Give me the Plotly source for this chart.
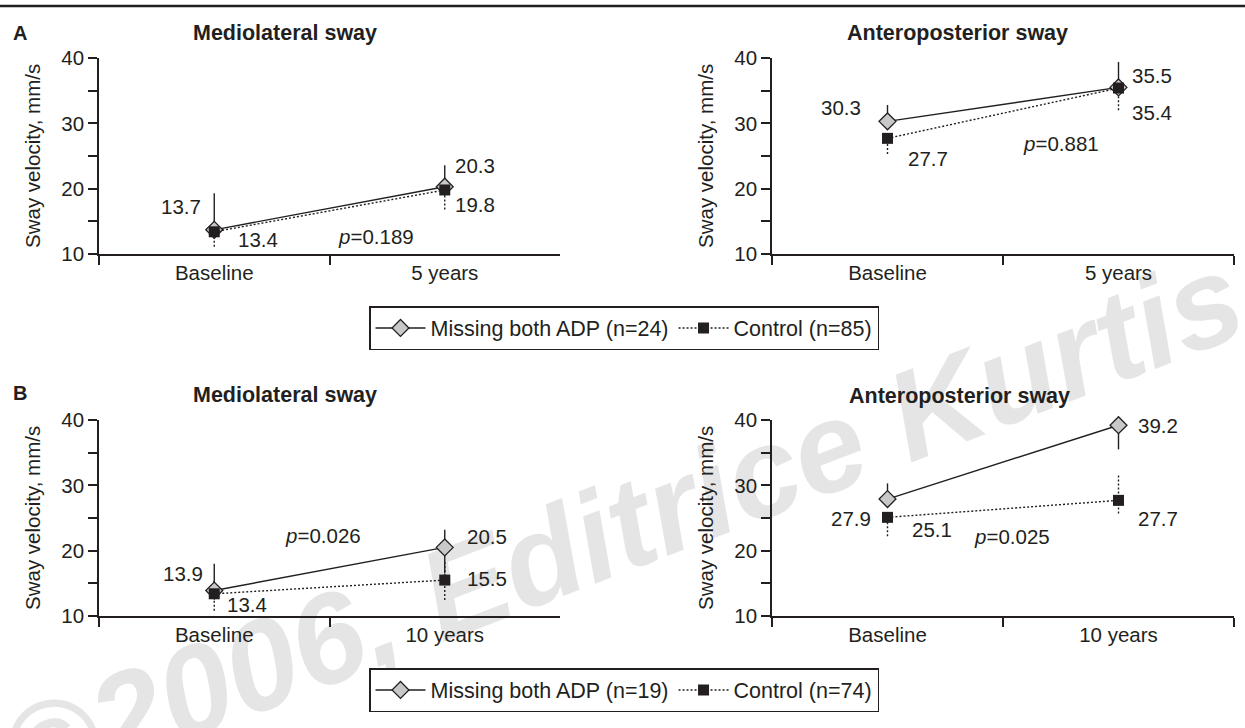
import plotly.graph_objects as go

# ---- data -------------------------------------------------------------
categories_a = ["Baseline", "5 years"]
categories_b = ["Baseline", "10 years"]

# Panel A: 5-year follow-up
a_ml_missing = [13.7, 20.3]
a_ml_control = [13.4, 19.8]
a_ap_missing = [30.3, 35.5]
a_ap_control = [27.7, 35.4]

# Panel B: 10-year follow-up
b_ml_missing = [13.9, 20.5]
b_ml_control = [13.4, 15.5]
b_ap_missing = [27.9, 39.2]
b_ap_control = [25.1, 27.7]

# error bar extents (upper, lower)
a_ml_missing_up, a_ml_missing_dn = [5.6, 3.3], [1.0, 1.0]
a_ml_control_up, a_ml_control_dn = [2.0, 2.0], [2.3, 3.0]
a_ap_missing_up, a_ap_missing_dn = [2.5, 3.9], [0.5, 0.8]
a_ap_control_up, a_ap_control_dn = [0.5, 1.0], [2.4, 3.4]
b_ml_missing_up, b_ml_missing_dn = [4.1, 2.7], [0.8, 4.0]
b_ml_control_up, b_ml_control_dn = [2.0, 3.0], [2.6, 3.05]
b_ap_missing_up, b_ap_missing_dn = [2.4, 4.0], [0.6, 3.7]
b_ap_control_up, b_ap_control_dn = [0.6, 4.1], [2.9, 2.0]

p_values = ["0.189", "0.881", "0.026", "0.025"]
n_missing = [24, 19]
n_control = [85, 74]

y_ticks = [10, 15, 20, 25, 30, 35, 40]
y_tick_text = ["10", "", "20", "", "30", "", "40"]

# ---- style ------------------------------------------------------------
INK = "#231f20"
DIAMOND_FILL = "#c8c8c8"
FONT = "Liberation Sans, Arial, Helvetica, sans-serif"
FS = 20.5
W, H = 1245, 728

def px_x(p):
    return p / W

def px_y(p):
    return 1 - p / H

# axis domains (pixels)
X_LEFT = (99, 560)
X_RIGHT = (772, 1234)
Y_TOP = (58, 254)
Y_BOT = (420, 616)

fig = go.Figure()

panels = [
    dict(ax="", cats=categories_a, m=a_ml_missing, c=a_ml_control,
         mu=a_ml_missing_up, md=a_ml_missing_dn, cu=a_ml_control_up, cd=a_ml_control_dn,
         xd=X_LEFT, yd=Y_TOP, legend="legend", n=0, p=p_values[0], p_pos=(0.70, 12.75),
         m_lab=[("right", -11, 23), ("left", 8, 21)],
         c_lab=[("left", 22, -8), ("left", 8, -15)]),
    dict(ax="2", cats=categories_a, m=a_ap_missing, c=a_ap_control,
         mu=a_ap_missing_up, md=a_ap_missing_dn, cu=a_ap_control_up, cd=a_ap_control_dn,
         xd=X_RIGHT, yd=Y_TOP, legend="legend", n=0, p=p_values[1], p_pos=(0.75, 26.9),
         m_lab=[("right", -25, 14), ("left", 11, 12)],
         c_lab=[("left", 18, -20), ("left", 11, -24)]),
    dict(ax="3", cats=categories_b, m=b_ml_missing, c=b_ml_control,
         mu=b_ml_missing_up, md=b_ml_missing_dn, cu=b_ml_control_up, cd=b_ml_control_dn,
         xd=X_LEFT, yd=Y_BOT, legend="legend2", n=1, p=p_values[2], p_pos=(0.47, 22.3),
         m_lab=[("right", -9, 17), ("left", 20, 11)],
         c_lab=[("left", 11, -11), ("left", 20, 2)]),
    dict(ax="4", cats=categories_b, m=b_ap_missing, c=b_ap_control,
         mu=b_ap_missing_up, md=b_ap_missing_dn, cu=b_ap_control_up, cd=b_ap_control_dn,
         xd=X_RIGHT, yd=Y_BOT, legend="legend2", n=1, p=p_values[3], p_pos=(0.54, 22.1),
         m_lab=[("right", -15, -19), ("left", 17, 0)],
         c_lab=[("left", 22, -12), ("left", 17, -18)]),
]

annotations = []
seen_legend = set()

for pn in panels:
    xa = "x" + pn["ax"]
    ya = "y" + pn["ax"]
    show = pn["legend"] not in seen_legend
    seen_legend.add(pn["legend"])
    cats = pn["cats"]

    # dotted control error bars (drawn first so markers sit on top)
    ex, ey = [], []
    for cat, v, up, dn in zip(cats, pn["c"], pn["cu"], pn["cd"]):
        ex += [cat, cat, None]
        ey += [v - dn, v + up, None]
    fig.add_trace(go.Scatter(
        x=ex, y=ey, xaxis=xa, yaxis=ya, mode="lines",
        line=dict(color=INK, width=1.4, dash="2px,2px"),
        showlegend=False, hoverinfo="skip", legend=pn["legend"]))

    # missing both ADP: solid line, grey diamonds
    fig.add_trace(go.Scatter(
        x=cats, y=pn["m"], xaxis=xa, yaxis=ya, mode="lines+markers",
        name=f"Missing both ADP (n={n_missing[pn['n']]})",
        line=dict(color=INK, width=1.4),
        marker=dict(symbol="diamond", size=13, color=DIAMOND_FILL,
                    line=dict(color=INK, width=1.3)),
        error_y=dict(type="data", symmetric=False, array=pn["mu"],
                     arrayminus=pn["md"], thickness=1.4, width=0, color=INK),
        cliponaxis=False, showlegend=show, legend=pn["legend"]))

    # control: dotted line, black squares
    fig.add_trace(go.Scatter(
        x=cats, y=pn["c"], xaxis=xa, yaxis=ya, mode="lines+markers",
        name=f"Control (n={n_control[pn['n']]})",
        line=dict(color=INK, width=1.4, dash="2px,2px"),
        marker=dict(symbol="square", size=11, color=INK, line=dict(width=0)),
        cliponaxis=False, showlegend=show, legend=pn["legend"]))

    # value labels
    for (anchor, dx, dy), cat, v in zip(pn["m_lab"], cats, pn["m"]):
        annotations.append(dict(x=cat, y=v, xref=xa, yref=ya, text=f"{v:.1f}",
                                showarrow=False, xanchor=anchor, yanchor="middle",
                                xshift=dx, yshift=dy))
    for (anchor, dx, dy), cat, v in zip(pn["c_lab"], cats, pn["c"]):
        annotations.append(dict(x=cat, y=v, xref=xa, yref=ya, text=f"{v:.1f}",
                                showarrow=False, xanchor=anchor, yanchor="middle",
                                xshift=dx, yshift=dy))
    # p-value
    annotations.append(dict(x=pn["p_pos"][0], y=pn["p_pos"][1], xref=xa, yref=ya,
                            text=f"<i>p</i>={pn['p']}", showarrow=False,
                            xanchor="center", yanchor="middle"))

    # axes
    axis_common = dict(showline=True, linecolor=INK, linewidth=1.5,
                       ticks="outside", ticklen=9, tickwidth=1.5, tickcolor=INK,
                       showgrid=False, zeroline=False, fixedrange=True,
                       automargin=False,
                       tickfont=dict(size=FS, color=INK, family=FONT))
    fig.update_layout({
        "xaxis" + pn["ax"]: dict(axis_common, type="category",
                                 categoryorder="array", categoryarray=cats,
                                 range=[-0.5, 1.5], tickson="boundaries",
                                 domain=[px_x(pn["xd"][0]), px_x(pn["xd"][1])],
                                 anchor=ya),
        "yaxis" + pn["ax"]: dict(axis_common, range=[10, 40],
                                 tickvals=y_ticks, ticktext=y_tick_text,
                                 domain=[px_y(pn["yd"][1]), px_y(pn["yd"][0])],
                                 anchor=xa),
    })

    # y-axis title
    annotations.append(dict(x=px_x(pn["xd"][0] - 67), y=px_y((pn["yd"][0] + pn["yd"][1]) / 2),
                            xref="paper", yref="paper", text="Sway velocity, mm/s",
                            textangle=-90, showarrow=False,
                            xanchor="center", yanchor="middle"))

# panel titles and letters
for label, cx, cy in [("Mediolateral sway", 285, 33), ("Anteroposterior sway", 958, 33),
                      ("Mediolateral sway", 285, 395), ("Anteroposterior sway", 959, 396)]:
    annotations.append(dict(x=px_x(cx), y=px_y(cy), xref="paper", yref="paper",
                            text=f"<b>{label}</b>", showarrow=False,
                            xanchor="center", yanchor="middle",
                            font=dict(size=21.5, color=INK, family=FONT)))
for letter, cy in [("A", 33), ("B", 393)]:
    annotations.append(dict(x=px_x(11), y=px_y(cy), xref="paper", yref="paper",
                            text=f"<b>{letter}</b>", showarrow=False,
                            xanchor="left", yanchor="middle",
                            font=dict(size=20, color=INK, family=FONT)))

legend_common = dict(orientation="h", xanchor="left", yanchor="top",
                     bgcolor="white", bordercolor=INK, borderwidth=1.5,
                     font=dict(size=21.5, color=INK, family=FONT),
                     itemwidth=50, itemclick=False, itemdoubleclick=False)

shapes = [
    # rule across the top
    dict(type="line", xref="paper", yref="paper", x0=0, x1=1,
         y0=px_y(6), y1=px_y(6), line=dict(color=INK, width=2.5)),
    # publisher watermark behind the plots
    dict(type="line", xref="paper", yref="paper", layer="below",
         x0=px_x(338), y0=px_y(622.5), x1=px_x(898), y1=px_y(407.5),
         line=dict(width=0, color="rgba(0,0,0,0)"),
         label=dict(text="©2006, Editrice Kurtis", textposition="middle",
                    textangle=-21, yanchor="middle", xanchor="center",
                    font=dict(size=127, color="#e5e5e5", family=FONT,
                              weight="bold", style="italic"))),
]

fig.update_layout(
    width=W, height=H,
    margin=dict(l=0, r=0, t=0, b=0, autoexpand=False),
    paper_bgcolor="white", plot_bgcolor="rgba(0,0,0,0)",
    font=dict(family=FONT, size=FS, color=INK),
    showlegend=True,
    legend=dict(legend_common, x=px_x(369), y=px_y(306)),
    legend2=dict(legend_common, x=px_x(369), y=px_y(668)),
    annotations=annotations,
    shapes=shapes,
    hovermode=False,
)

fig.write_html("out.html")
